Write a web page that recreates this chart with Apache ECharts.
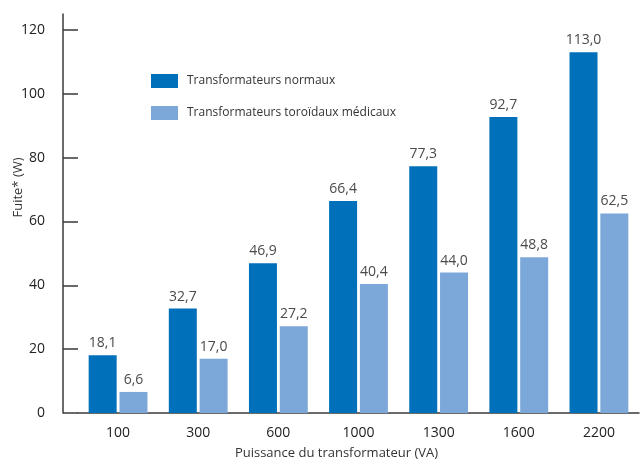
<!DOCTYPE html>
<html>
<head>
<meta charset="utf-8">
<script src="https://cdn.jsdelivr.net/npm/echarts@6/dist/echarts.min.js"></script>
<style>html,body{margin:0;padding:0;background:#fff}#c{width:641px;height:459px}</style>
</head>
<body>
<div id="c"></div>
<script>
var categories = ['100','300','600','1000','1300','1600','2200'];
var normaux = [18.1, 32.7, 46.9, 66.4, 77.3, 92.7, 113.0];
var medicaux = [6.6, 17.0, 27.2, 40.4, 44.0, 48.8, 62.5];
var yTicks = [0, 20, 40, 60, 80, 100, 120];
var seriesNames = ['Transformateurs normaux', 'Transformateurs toroïdaux médicaux'];

var font = '"Open Sans", "Noto Sans", sans-serif';
function fmt(p){ return p.value.toFixed(1).replace('.', ','); }
var chart = echarts.init(document.getElementById('c'), null, {renderer:'canvas'});
chart.setOption({
  animation: false,
  textStyle: {fontFamily: font},
  legend: {
    orient: 'vertical', left: 146, top: 69, itemWidth: 27, itemHeight: 14, itemGap: 18,
    icon: 'rect',
    textStyle: {fontFamily: font, fontSize: 12, color: '#333', padding: [0,0,0,4]},
    data: seriesNames
  },
  grid: {left: 78, right: 2, top: 14, bottom: 46, containLabel: false, outerBoundsMode: 'none'},
  xAxis: {
    type: 'category', data: categories,
    axisLine: {lineStyle: {color: '#3a3a3a', width: 1.5}},
    axisTick: {inside: true, length: 10, interval: function(i){ return i !== 0; }, lineStyle: {color: '#3a3a3a', width: 1.5}},
    axisLabel: {fontFamily: font, fontSize: 14, color: '#222', margin: 13},
    name: 'Puissance du transformateur (VA)', nameLocation: 'middle', nameGap: 34, nameMoveOverlap: false,
    nameTextStyle: {fontFamily: font, fontSize: 13, color: '#333', padding: [0, 44, 0, 0]}
  },
  yAxis: {
    type: 'value', min: 0, max: 125, interval: 20, offset: 15,
    splitLine: {show: false},
    axisLine: {show: true, lineStyle: {color: '#3a3a3a', width: 1.5}},
    axisTick: {show: true, inside: true, length: 15, customValues: yTicks, lineStyle: {color: '#3a3a3a', width: 1.5}},
    axisLabel: {fontFamily: font, fontSize: 14, color: '#222', margin: 18, customValues: yTicks},
    name: 'Fuite* (W)', nameLocation: 'middle', nameGap: 38, nameRotate: 90, nameMoveOverlap: false,
    nameTextStyle: {fontFamily: font, fontSize: 13, color: '#333', padding: [0, 0, 0, 52]}
  },
  series: [
    {name: seriesNames[0], type: 'bar', data: normaux, barWidth: 28, barGap: '10%',
     itemStyle: {color: '#0070BA'},
     label: {show: true, position: 'top', distance: 5, formatter: fmt, fontFamily: font, fontSize: 14, color: '#4a4a4a'}},
    {name: seriesNames[1], type: 'bar', data: medicaux, barWidth: 28, barGap: '10%',
     itemStyle: {color: '#7CA7D9'},
     label: {show: true, position: 'top', distance: 5, formatter: fmt, fontFamily: font, fontSize: 14, color: '#4a4a4a'}}
  ]
});
</script>
</body>
</html>
